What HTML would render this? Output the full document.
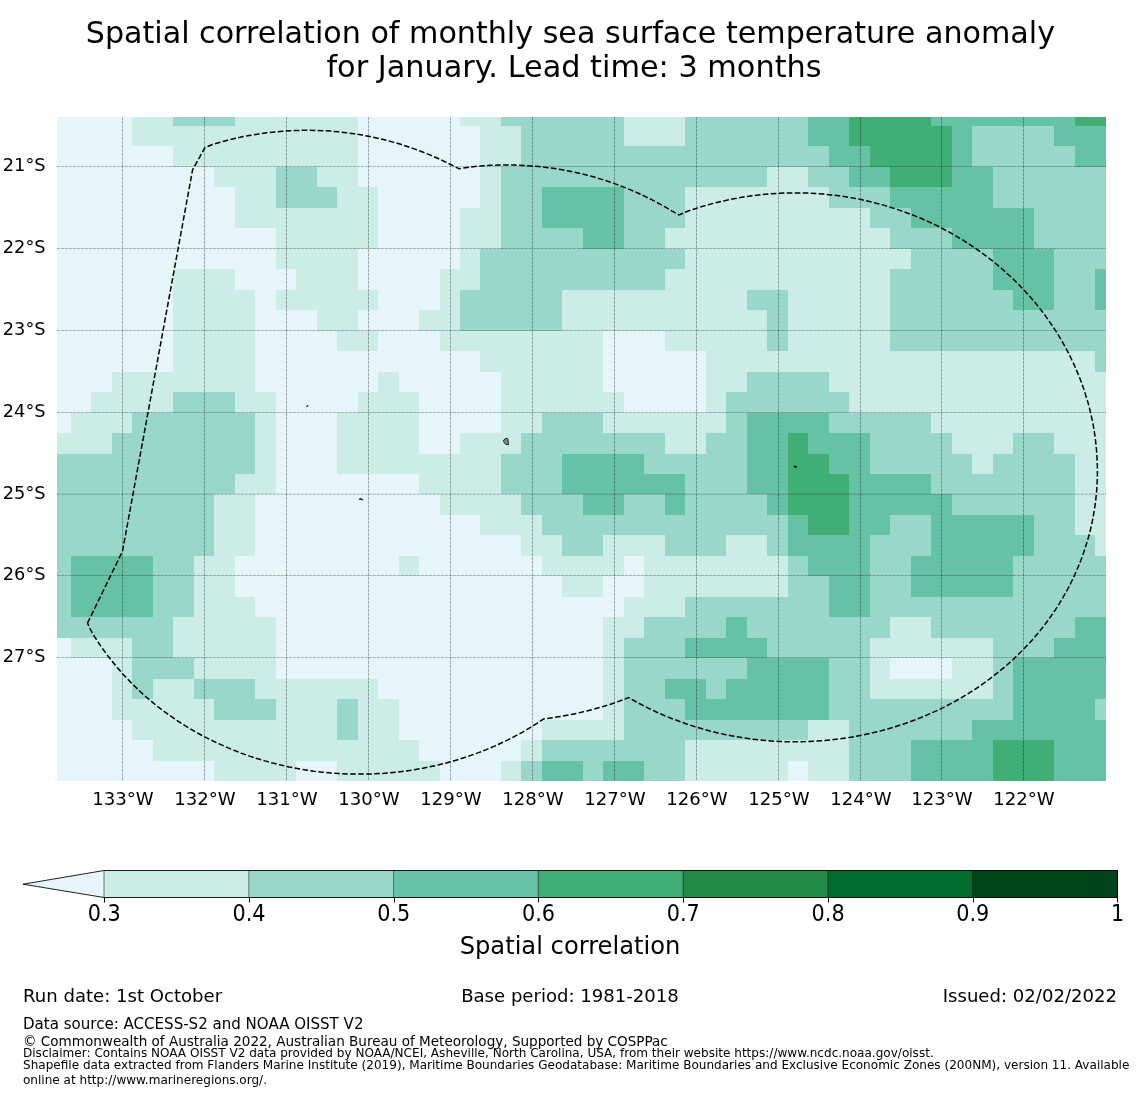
<!DOCTYPE html>
<html><head><meta charset="utf-8"><title>Spatial correlation of monthly sea surface temperature anomaly</title>
<style>html,body{margin:0;padding:0;background:#fff}svg{display:block}text{font-family:"DejaVu Sans","Liberation Sans",sans-serif;fill:#000}</style></head><body>
<svg width="1140" height="1095" viewBox="0 0 1140 1095">
<rect width="1140" height="1095" fill="#fff"/>
<g shape-rendering="crispEdges">
<rect x="57" y="117" width="1049" height="664" fill="#e5f5f9"/>
<rect x="132" y="117" width="41" height="9" fill="#ccece6"/>
<rect x="173" y="117" width="62" height="9" fill="#99d8c9"/>
<rect x="235" y="117" width="123" height="9" fill="#ccece6"/>
<rect x="460" y="117" width="41" height="9" fill="#ccece6"/>
<rect x="501" y="117" width="123" height="9" fill="#99d8c9"/>
<rect x="624" y="117" width="61" height="9" fill="#ccece6"/>
<rect x="685" y="117" width="123" height="9" fill="#99d8c9"/>
<rect x="808" y="117" width="41" height="9" fill="#66c2a4"/>
<rect x="849" y="117" width="82" height="9" fill="#41ae76"/>
<rect x="931" y="117" width="144" height="9" fill="#66c2a4"/>
<rect x="1075" y="117" width="31" height="9" fill="#41ae76"/>
<rect x="132" y="126" width="226" height="20" fill="#ccece6"/>
<rect x="480" y="126" width="41" height="20" fill="#ccece6"/>
<rect x="521" y="126" width="103" height="20" fill="#99d8c9"/>
<rect x="624" y="126" width="61" height="20" fill="#ccece6"/>
<rect x="685" y="126" width="123" height="20" fill="#99d8c9"/>
<rect x="808" y="126" width="41" height="20" fill="#66c2a4"/>
<rect x="849" y="126" width="103" height="20" fill="#41ae76"/>
<rect x="952" y="126" width="20" height="20" fill="#66c2a4"/>
<rect x="972" y="126" width="82" height="20" fill="#99d8c9"/>
<rect x="1054" y="126" width="52" height="20" fill="#66c2a4"/>
<rect x="173" y="146" width="185" height="21" fill="#ccece6"/>
<rect x="480" y="146" width="41" height="21" fill="#ccece6"/>
<rect x="521" y="146" width="308" height="21" fill="#99d8c9"/>
<rect x="829" y="146" width="41" height="21" fill="#66c2a4"/>
<rect x="870" y="146" width="82" height="21" fill="#41ae76"/>
<rect x="952" y="146" width="20" height="21" fill="#66c2a4"/>
<rect x="972" y="146" width="103" height="21" fill="#99d8c9"/>
<rect x="1075" y="146" width="31" height="21" fill="#66c2a4"/>
<rect x="214" y="167" width="62" height="20" fill="#ccece6"/>
<rect x="276" y="167" width="41" height="20" fill="#99d8c9"/>
<rect x="317" y="167" width="41" height="20" fill="#ccece6"/>
<rect x="480" y="167" width="21" height="20" fill="#ccece6"/>
<rect x="501" y="167" width="266" height="20" fill="#99d8c9"/>
<rect x="767" y="167" width="41" height="20" fill="#ccece6"/>
<rect x="808" y="167" width="41" height="20" fill="#99d8c9"/>
<rect x="849" y="167" width="41" height="20" fill="#66c2a4"/>
<rect x="890" y="167" width="62" height="20" fill="#41ae76"/>
<rect x="952" y="167" width="41" height="20" fill="#66c2a4"/>
<rect x="993" y="167" width="113" height="20" fill="#99d8c9"/>
<rect x="235" y="187" width="41" height="21" fill="#ccece6"/>
<rect x="276" y="187" width="61" height="21" fill="#99d8c9"/>
<rect x="337" y="187" width="41" height="21" fill="#ccece6"/>
<rect x="480" y="187" width="21" height="21" fill="#ccece6"/>
<rect x="501" y="187" width="41" height="21" fill="#99d8c9"/>
<rect x="542" y="187" width="82" height="21" fill="#66c2a4"/>
<rect x="624" y="187" width="61" height="21" fill="#99d8c9"/>
<rect x="685" y="187" width="144" height="21" fill="#ccece6"/>
<rect x="829" y="187" width="61" height="21" fill="#99d8c9"/>
<rect x="890" y="187" width="103" height="21" fill="#66c2a4"/>
<rect x="993" y="187" width="113" height="21" fill="#99d8c9"/>
<rect x="235" y="208" width="143" height="20" fill="#ccece6"/>
<rect x="460" y="208" width="41" height="20" fill="#ccece6"/>
<rect x="501" y="208" width="41" height="20" fill="#99d8c9"/>
<rect x="542" y="208" width="82" height="20" fill="#66c2a4"/>
<rect x="624" y="208" width="61" height="20" fill="#99d8c9"/>
<rect x="685" y="208" width="185" height="20" fill="#ccece6"/>
<rect x="870" y="208" width="41" height="20" fill="#99d8c9"/>
<rect x="911" y="208" width="123" height="20" fill="#66c2a4"/>
<rect x="1034" y="208" width="72" height="20" fill="#99d8c9"/>
<rect x="276" y="228" width="102" height="21" fill="#ccece6"/>
<rect x="460" y="228" width="41" height="21" fill="#ccece6"/>
<rect x="501" y="228" width="82" height="21" fill="#99d8c9"/>
<rect x="583" y="228" width="41" height="21" fill="#66c2a4"/>
<rect x="624" y="228" width="41" height="21" fill="#99d8c9"/>
<rect x="665" y="228" width="225" height="21" fill="#ccece6"/>
<rect x="890" y="228" width="62" height="21" fill="#99d8c9"/>
<rect x="952" y="228" width="82" height="21" fill="#66c2a4"/>
<rect x="1034" y="228" width="72" height="21" fill="#99d8c9"/>
<rect x="276" y="249" width="82" height="20" fill="#ccece6"/>
<rect x="460" y="249" width="20" height="20" fill="#ccece6"/>
<rect x="480" y="249" width="205" height="20" fill="#99d8c9"/>
<rect x="685" y="249" width="226" height="20" fill="#ccece6"/>
<rect x="911" y="249" width="82" height="20" fill="#99d8c9"/>
<rect x="993" y="249" width="61" height="20" fill="#66c2a4"/>
<rect x="1054" y="249" width="52" height="20" fill="#99d8c9"/>
<rect x="173" y="269" width="62" height="21" fill="#ccece6"/>
<rect x="296" y="269" width="62" height="21" fill="#ccece6"/>
<rect x="440" y="269" width="40" height="21" fill="#ccece6"/>
<rect x="480" y="269" width="185" height="21" fill="#99d8c9"/>
<rect x="665" y="269" width="225" height="21" fill="#ccece6"/>
<rect x="890" y="269" width="103" height="21" fill="#99d8c9"/>
<rect x="993" y="269" width="61" height="21" fill="#66c2a4"/>
<rect x="1054" y="269" width="41" height="21" fill="#99d8c9"/>
<rect x="1095" y="269" width="11" height="21" fill="#66c2a4"/>
<rect x="173" y="290" width="82" height="20" fill="#ccece6"/>
<rect x="276" y="290" width="102" height="20" fill="#ccece6"/>
<rect x="440" y="290" width="20" height="20" fill="#ccece6"/>
<rect x="460" y="290" width="102" height="20" fill="#99d8c9"/>
<rect x="562" y="290" width="185" height="20" fill="#ccece6"/>
<rect x="747" y="290" width="41" height="20" fill="#99d8c9"/>
<rect x="788" y="290" width="102" height="20" fill="#ccece6"/>
<rect x="890" y="290" width="123" height="20" fill="#99d8c9"/>
<rect x="1013" y="290" width="41" height="20" fill="#66c2a4"/>
<rect x="1054" y="290" width="41" height="20" fill="#99d8c9"/>
<rect x="1095" y="290" width="11" height="20" fill="#66c2a4"/>
<rect x="173" y="310" width="82" height="21" fill="#ccece6"/>
<rect x="317" y="310" width="41" height="21" fill="#ccece6"/>
<rect x="419" y="310" width="41" height="21" fill="#ccece6"/>
<rect x="460" y="310" width="102" height="21" fill="#99d8c9"/>
<rect x="562" y="310" width="205" height="21" fill="#ccece6"/>
<rect x="767" y="310" width="21" height="21" fill="#99d8c9"/>
<rect x="788" y="310" width="102" height="21" fill="#ccece6"/>
<rect x="890" y="310" width="216" height="21" fill="#99d8c9"/>
<rect x="173" y="331" width="82" height="20" fill="#ccece6"/>
<rect x="337" y="331" width="41" height="20" fill="#ccece6"/>
<rect x="440" y="331" width="163" height="20" fill="#ccece6"/>
<rect x="665" y="331" width="102" height="20" fill="#ccece6"/>
<rect x="767" y="331" width="21" height="20" fill="#99d8c9"/>
<rect x="788" y="331" width="102" height="20" fill="#ccece6"/>
<rect x="890" y="331" width="216" height="20" fill="#99d8c9"/>
<rect x="173" y="351" width="82" height="21" fill="#ccece6"/>
<rect x="480" y="351" width="123" height="21" fill="#ccece6"/>
<rect x="706" y="351" width="389" height="21" fill="#ccece6"/>
<rect x="1095" y="351" width="11" height="21" fill="#99d8c9"/>
<rect x="112" y="372" width="143" height="20" fill="#ccece6"/>
<rect x="378" y="372" width="21" height="20" fill="#ccece6"/>
<rect x="501" y="372" width="102" height="20" fill="#ccece6"/>
<rect x="706" y="372" width="41" height="20" fill="#ccece6"/>
<rect x="747" y="372" width="82" height="20" fill="#99d8c9"/>
<rect x="829" y="372" width="277" height="20" fill="#ccece6"/>
<rect x="91" y="392" width="82" height="21" fill="#ccece6"/>
<rect x="173" y="392" width="62" height="21" fill="#99d8c9"/>
<rect x="235" y="392" width="41" height="21" fill="#ccece6"/>
<rect x="358" y="392" width="61" height="21" fill="#ccece6"/>
<rect x="501" y="392" width="123" height="21" fill="#ccece6"/>
<rect x="706" y="392" width="20" height="21" fill="#ccece6"/>
<rect x="726" y="392" width="123" height="21" fill="#99d8c9"/>
<rect x="849" y="392" width="257" height="21" fill="#ccece6"/>
<rect x="71" y="413" width="61" height="20" fill="#ccece6"/>
<rect x="132" y="413" width="123" height="20" fill="#99d8c9"/>
<rect x="255" y="413" width="21" height="20" fill="#ccece6"/>
<rect x="337" y="413" width="82" height="20" fill="#ccece6"/>
<rect x="501" y="413" width="41" height="20" fill="#ccece6"/>
<rect x="542" y="413" width="61" height="20" fill="#99d8c9"/>
<rect x="603" y="413" width="123" height="20" fill="#ccece6"/>
<rect x="726" y="413" width="21" height="20" fill="#99d8c9"/>
<rect x="747" y="413" width="82" height="20" fill="#66c2a4"/>
<rect x="829" y="413" width="102" height="20" fill="#99d8c9"/>
<rect x="931" y="413" width="175" height="20" fill="#ccece6"/>
<rect x="57" y="433" width="55" height="21" fill="#ccece6"/>
<rect x="112" y="433" width="143" height="21" fill="#99d8c9"/>
<rect x="255" y="433" width="21" height="21" fill="#ccece6"/>
<rect x="337" y="433" width="82" height="21" fill="#ccece6"/>
<rect x="460" y="433" width="61" height="21" fill="#ccece6"/>
<rect x="521" y="433" width="144" height="21" fill="#99d8c9"/>
<rect x="665" y="433" width="41" height="21" fill="#ccece6"/>
<rect x="706" y="433" width="41" height="21" fill="#99d8c9"/>
<rect x="747" y="433" width="41" height="21" fill="#66c2a4"/>
<rect x="788" y="433" width="20" height="21" fill="#41ae76"/>
<rect x="808" y="433" width="62" height="21" fill="#66c2a4"/>
<rect x="870" y="433" width="82" height="21" fill="#99d8c9"/>
<rect x="952" y="433" width="61" height="21" fill="#ccece6"/>
<rect x="1013" y="433" width="41" height="21" fill="#99d8c9"/>
<rect x="1054" y="433" width="52" height="21" fill="#ccece6"/>
<rect x="57" y="454" width="198" height="20" fill="#99d8c9"/>
<rect x="255" y="454" width="21" height="20" fill="#ccece6"/>
<rect x="337" y="454" width="164" height="20" fill="#ccece6"/>
<rect x="501" y="454" width="61" height="20" fill="#99d8c9"/>
<rect x="562" y="454" width="82" height="20" fill="#66c2a4"/>
<rect x="644" y="454" width="103" height="20" fill="#99d8c9"/>
<rect x="747" y="454" width="41" height="20" fill="#66c2a4"/>
<rect x="788" y="454" width="41" height="20" fill="#41ae76"/>
<rect x="829" y="454" width="41" height="20" fill="#66c2a4"/>
<rect x="870" y="454" width="102" height="20" fill="#99d8c9"/>
<rect x="972" y="454" width="21" height="20" fill="#ccece6"/>
<rect x="993" y="454" width="82" height="20" fill="#99d8c9"/>
<rect x="1075" y="454" width="31" height="20" fill="#ccece6"/>
<rect x="57" y="474" width="178" height="20" fill="#99d8c9"/>
<rect x="235" y="474" width="41" height="20" fill="#ccece6"/>
<rect x="419" y="474" width="82" height="20" fill="#ccece6"/>
<rect x="501" y="474" width="61" height="20" fill="#99d8c9"/>
<rect x="562" y="474" width="123" height="20" fill="#66c2a4"/>
<rect x="685" y="474" width="62" height="20" fill="#99d8c9"/>
<rect x="747" y="474" width="41" height="20" fill="#66c2a4"/>
<rect x="788" y="474" width="61" height="20" fill="#41ae76"/>
<rect x="849" y="474" width="82" height="20" fill="#66c2a4"/>
<rect x="931" y="474" width="144" height="20" fill="#99d8c9"/>
<rect x="1075" y="474" width="31" height="20" fill="#ccece6"/>
<rect x="57" y="494" width="157" height="21" fill="#99d8c9"/>
<rect x="214" y="494" width="41" height="21" fill="#ccece6"/>
<rect x="440" y="494" width="81" height="21" fill="#ccece6"/>
<rect x="521" y="494" width="62" height="21" fill="#99d8c9"/>
<rect x="583" y="494" width="41" height="21" fill="#66c2a4"/>
<rect x="624" y="494" width="41" height="21" fill="#99d8c9"/>
<rect x="665" y="494" width="20" height="21" fill="#66c2a4"/>
<rect x="685" y="494" width="82" height="21" fill="#99d8c9"/>
<rect x="767" y="494" width="21" height="21" fill="#66c2a4"/>
<rect x="788" y="494" width="61" height="21" fill="#41ae76"/>
<rect x="849" y="494" width="103" height="21" fill="#66c2a4"/>
<rect x="952" y="494" width="123" height="21" fill="#99d8c9"/>
<rect x="1075" y="494" width="31" height="21" fill="#ccece6"/>
<rect x="57" y="515" width="157" height="20" fill="#99d8c9"/>
<rect x="214" y="515" width="41" height="20" fill="#ccece6"/>
<rect x="480" y="515" width="62" height="20" fill="#ccece6"/>
<rect x="542" y="515" width="246" height="20" fill="#99d8c9"/>
<rect x="788" y="515" width="20" height="20" fill="#66c2a4"/>
<rect x="808" y="515" width="41" height="20" fill="#41ae76"/>
<rect x="849" y="515" width="41" height="20" fill="#66c2a4"/>
<rect x="890" y="515" width="41" height="20" fill="#99d8c9"/>
<rect x="931" y="515" width="103" height="20" fill="#66c2a4"/>
<rect x="1034" y="515" width="41" height="20" fill="#99d8c9"/>
<rect x="1075" y="515" width="31" height="20" fill="#ccece6"/>
<rect x="57" y="535" width="157" height="21" fill="#99d8c9"/>
<rect x="214" y="535" width="41" height="21" fill="#ccece6"/>
<rect x="521" y="535" width="41" height="21" fill="#ccece6"/>
<rect x="562" y="535" width="41" height="21" fill="#99d8c9"/>
<rect x="603" y="535" width="62" height="21" fill="#ccece6"/>
<rect x="665" y="535" width="61" height="21" fill="#99d8c9"/>
<rect x="726" y="535" width="41" height="21" fill="#ccece6"/>
<rect x="767" y="535" width="21" height="21" fill="#99d8c9"/>
<rect x="788" y="535" width="82" height="21" fill="#66c2a4"/>
<rect x="870" y="535" width="61" height="21" fill="#99d8c9"/>
<rect x="931" y="535" width="103" height="21" fill="#66c2a4"/>
<rect x="1034" y="535" width="61" height="21" fill="#99d8c9"/>
<rect x="1095" y="535" width="11" height="21" fill="#ccece6"/>
<rect x="57" y="556" width="14" height="20" fill="#99d8c9"/>
<rect x="71" y="556" width="82" height="20" fill="#66c2a4"/>
<rect x="153" y="556" width="41" height="20" fill="#99d8c9"/>
<rect x="194" y="556" width="41" height="20" fill="#ccece6"/>
<rect x="399" y="556" width="20" height="20" fill="#ccece6"/>
<rect x="542" y="556" width="82" height="20" fill="#ccece6"/>
<rect x="644" y="556" width="144" height="20" fill="#ccece6"/>
<rect x="788" y="556" width="20" height="20" fill="#99d8c9"/>
<rect x="808" y="556" width="62" height="20" fill="#66c2a4"/>
<rect x="870" y="556" width="41" height="20" fill="#99d8c9"/>
<rect x="911" y="556" width="102" height="20" fill="#66c2a4"/>
<rect x="1013" y="556" width="93" height="20" fill="#99d8c9"/>
<rect x="57" y="576" width="14" height="21" fill="#99d8c9"/>
<rect x="71" y="576" width="82" height="21" fill="#66c2a4"/>
<rect x="153" y="576" width="41" height="21" fill="#99d8c9"/>
<rect x="194" y="576" width="41" height="21" fill="#ccece6"/>
<rect x="562" y="576" width="41" height="21" fill="#ccece6"/>
<rect x="644" y="576" width="144" height="21" fill="#ccece6"/>
<rect x="788" y="576" width="41" height="21" fill="#99d8c9"/>
<rect x="829" y="576" width="41" height="21" fill="#66c2a4"/>
<rect x="870" y="576" width="41" height="21" fill="#99d8c9"/>
<rect x="911" y="576" width="102" height="21" fill="#66c2a4"/>
<rect x="1013" y="576" width="93" height="21" fill="#99d8c9"/>
<rect x="57" y="597" width="14" height="20" fill="#99d8c9"/>
<rect x="71" y="597" width="82" height="20" fill="#66c2a4"/>
<rect x="153" y="597" width="41" height="20" fill="#99d8c9"/>
<rect x="194" y="597" width="61" height="20" fill="#ccece6"/>
<rect x="624" y="597" width="61" height="20" fill="#ccece6"/>
<rect x="685" y="597" width="144" height="20" fill="#99d8c9"/>
<rect x="829" y="597" width="41" height="20" fill="#66c2a4"/>
<rect x="870" y="597" width="236" height="20" fill="#99d8c9"/>
<rect x="57" y="617" width="116" height="21" fill="#99d8c9"/>
<rect x="173" y="617" width="103" height="21" fill="#ccece6"/>
<rect x="603" y="617" width="41" height="21" fill="#ccece6"/>
<rect x="644" y="617" width="82" height="21" fill="#99d8c9"/>
<rect x="726" y="617" width="21" height="21" fill="#66c2a4"/>
<rect x="747" y="617" width="143" height="21" fill="#99d8c9"/>
<rect x="890" y="617" width="41" height="21" fill="#ccece6"/>
<rect x="931" y="617" width="144" height="21" fill="#99d8c9"/>
<rect x="1075" y="617" width="31" height="21" fill="#66c2a4"/>
<rect x="71" y="638" width="61" height="20" fill="#ccece6"/>
<rect x="132" y="638" width="41" height="20" fill="#99d8c9"/>
<rect x="173" y="638" width="103" height="20" fill="#ccece6"/>
<rect x="603" y="638" width="21" height="20" fill="#ccece6"/>
<rect x="624" y="638" width="61" height="20" fill="#99d8c9"/>
<rect x="685" y="638" width="82" height="20" fill="#66c2a4"/>
<rect x="767" y="638" width="103" height="20" fill="#99d8c9"/>
<rect x="870" y="638" width="123" height="20" fill="#ccece6"/>
<rect x="993" y="638" width="61" height="20" fill="#99d8c9"/>
<rect x="1054" y="638" width="52" height="20" fill="#66c2a4"/>
<rect x="112" y="658" width="20" height="21" fill="#ccece6"/>
<rect x="132" y="658" width="62" height="21" fill="#99d8c9"/>
<rect x="194" y="658" width="82" height="21" fill="#ccece6"/>
<rect x="603" y="658" width="21" height="21" fill="#ccece6"/>
<rect x="624" y="658" width="123" height="21" fill="#99d8c9"/>
<rect x="747" y="658" width="82" height="21" fill="#66c2a4"/>
<rect x="829" y="658" width="41" height="21" fill="#99d8c9"/>
<rect x="870" y="658" width="20" height="21" fill="#ccece6"/>
<rect x="952" y="658" width="41" height="21" fill="#ccece6"/>
<rect x="993" y="658" width="20" height="21" fill="#99d8c9"/>
<rect x="1013" y="658" width="93" height="21" fill="#66c2a4"/>
<rect x="112" y="679" width="20" height="20" fill="#ccece6"/>
<rect x="132" y="679" width="21" height="20" fill="#99d8c9"/>
<rect x="153" y="679" width="41" height="20" fill="#ccece6"/>
<rect x="194" y="679" width="61" height="20" fill="#99d8c9"/>
<rect x="255" y="679" width="123" height="20" fill="#ccece6"/>
<rect x="603" y="679" width="21" height="20" fill="#ccece6"/>
<rect x="624" y="679" width="41" height="20" fill="#99d8c9"/>
<rect x="665" y="679" width="41" height="20" fill="#66c2a4"/>
<rect x="706" y="679" width="20" height="20" fill="#99d8c9"/>
<rect x="726" y="679" width="103" height="20" fill="#66c2a4"/>
<rect x="829" y="679" width="41" height="20" fill="#99d8c9"/>
<rect x="870" y="679" width="123" height="20" fill="#ccece6"/>
<rect x="993" y="679" width="20" height="20" fill="#99d8c9"/>
<rect x="1013" y="679" width="93" height="20" fill="#66c2a4"/>
<rect x="112" y="699" width="102" height="21" fill="#ccece6"/>
<rect x="214" y="699" width="62" height="21" fill="#99d8c9"/>
<rect x="276" y="699" width="61" height="21" fill="#ccece6"/>
<rect x="337" y="699" width="21" height="21" fill="#99d8c9"/>
<rect x="358" y="699" width="41" height="21" fill="#ccece6"/>
<rect x="603" y="699" width="21" height="21" fill="#ccece6"/>
<rect x="624" y="699" width="61" height="21" fill="#99d8c9"/>
<rect x="685" y="699" width="144" height="21" fill="#66c2a4"/>
<rect x="829" y="699" width="184" height="21" fill="#99d8c9"/>
<rect x="1013" y="699" width="82" height="21" fill="#66c2a4"/>
<rect x="1095" y="699" width="11" height="21" fill="#99d8c9"/>
<rect x="132" y="720" width="205" height="20" fill="#ccece6"/>
<rect x="337" y="720" width="21" height="20" fill="#99d8c9"/>
<rect x="358" y="720" width="41" height="20" fill="#ccece6"/>
<rect x="542" y="720" width="82" height="20" fill="#ccece6"/>
<rect x="624" y="720" width="184" height="20" fill="#99d8c9"/>
<rect x="808" y="720" width="41" height="20" fill="#ccece6"/>
<rect x="849" y="720" width="123" height="20" fill="#99d8c9"/>
<rect x="972" y="720" width="134" height="20" fill="#66c2a4"/>
<rect x="153" y="740" width="266" height="21" fill="#ccece6"/>
<rect x="521" y="740" width="21" height="21" fill="#ccece6"/>
<rect x="542" y="740" width="143" height="21" fill="#99d8c9"/>
<rect x="685" y="740" width="164" height="21" fill="#ccece6"/>
<rect x="849" y="740" width="62" height="21" fill="#99d8c9"/>
<rect x="911" y="740" width="82" height="21" fill="#66c2a4"/>
<rect x="993" y="740" width="61" height="21" fill="#41ae76"/>
<rect x="1054" y="740" width="52" height="21" fill="#66c2a4"/>
<rect x="214" y="761" width="82" height="20" fill="#ccece6"/>
<rect x="337" y="761" width="103" height="20" fill="#ccece6"/>
<rect x="501" y="761" width="20" height="20" fill="#ccece6"/>
<rect x="521" y="761" width="21" height="20" fill="#99d8c9"/>
<rect x="542" y="761" width="41" height="20" fill="#66c2a4"/>
<rect x="583" y="761" width="20" height="20" fill="#99d8c9"/>
<rect x="603" y="761" width="41" height="20" fill="#66c2a4"/>
<rect x="644" y="761" width="41" height="20" fill="#99d8c9"/>
<rect x="685" y="761" width="103" height="20" fill="#ccece6"/>
<rect x="808" y="761" width="41" height="20" fill="#ccece6"/>
<rect x="849" y="761" width="62" height="20" fill="#99d8c9"/>
<rect x="911" y="761" width="82" height="20" fill="#66c2a4"/>
<rect x="993" y="761" width="61" height="20" fill="#41ae76"/>
<rect x="1054" y="761" width="52" height="20" fill="#66c2a4"/>
</g>
<path d="M122.5 117V781M204.5 117V781M286.5 117V781M368.5 117V781M450.5 117V781M532.5 117V781M614.5 117V781M696.5 117V781M778.5 117V781M860.5 117V781M941.5 117V781M1023.5 117V781M57 166.5H1106M57 248.5H1106M57 330.5H1106M57 412.5H1106M57 494.2H1106M57 575.5H1106M57 657.5H1106" stroke="#000" stroke-opacity="0.1" stroke-width="1" fill="none"/>
<path d="M122.5 117V781M204.5 117V781M286.5 117V781M368.5 117V781M450.5 117V781M532.5 117V781M614.5 117V781M696.5 117V781M778.5 117V781M860.5 117V781M941.5 117V781M1023.5 117V781" stroke="#000" stroke-opacity="0.24" stroke-width="1" stroke-dasharray="2.8 1.2" fill="none"/>
<path d="M57 166.5H1106M57 248.5H1106M57 330.5H1106M57 412.5H1106M57 494.2H1106M57 575.5H1106M57 657.5H1106" stroke="#000" stroke-opacity="0.19" stroke-width="1" stroke-dasharray="2.8 1.2" fill="none"/>
<path d="M87.5 623.1 L122.5 551.2 L192.6 169.7 L205.1 147.4 L212.5 144.5 L220.1 142.3 L227.7 140.2 L235.5 138.3 L243.2 136.6 L251.1 135.2 L258.9 133.9 L266.8 132.8 L274.7 131.9 L282.7 131.2 L290.6 130.7 L298.6 130.4 L306.6 130.3 L314.5 130.4 L322.5 130.7 L330.5 131.1 L338.4 131.8 L346.3 132.7 L354.2 133.8 L362.1 135.1 L369.9 136.5 L377.7 138.2 L385.4 140.1 L393.1 142.1 L400.7 144.3 L408.2 146.8 L415.7 149.4 L423.1 152.2 L430.4 155.1 L437.7 158.3 L444.8 161.6 L451.9 165.2 L459.0 168.7 L467.0 167.4 L474.9 166.5 L482.9 165.8 L490.8 165.3 L498.8 165.0 L506.8 165.0 L514.7 165.1 L522.7 165.4 L530.7 165.9 L538.6 166.5 L546.5 167.4 L554.4 168.5 L562.3 169.8 L570.1 171.3 L577.9 172.9 L585.6 174.8 L593.3 176.8 L600.9 179.1 L608.4 181.5 L615.9 184.1 L623.3 186.9 L630.6 189.9 L637.9 193.0 L645.0 196.4 L652.1 199.9 L659.0 203.6 L665.9 207.4 L672.6 211.4 L679.1 215.0 L686.3 211.7 L693.6 209.2 L700.9 206.9 L708.4 204.7 L715.8 202.7 L723.4 200.9 L730.9 199.3 L738.6 197.8 L746.2 196.6 L753.9 195.5 L761.6 194.6 L769.3 193.9 L777.1 193.4 L784.9 193.0 L792.6 192.9 L800.4 192.9 L808.2 193.1 L815.9 193.5 L823.7 194.1 L831.4 194.9 L839.1 195.8 L846.8 197.0 L854.4 198.3 L862.0 199.8 L869.6 201.5 L877.1 203.4 L884.5 205.4 L891.9 207.7 L899.3 210.1 L906.5 212.7 L913.7 215.4 L920.9 218.3 L927.9 221.4 L934.9 224.7 L941.7 228.1 L948.5 231.7 L955.2 235.5 L961.7 239.4 L968.2 243.4 L974.5 247.7 L980.7 252.0 L986.8 256.5 L992.8 261.2 L998.7 266.0 L1004.4 271.0 L1009.9 276.0 L1015.4 281.2 L1020.7 286.6 L1025.8 292.0 L1030.8 297.6 L1035.6 303.3 L1040.3 309.1 L1044.8 315.0 L1049.1 321.1 L1053.3 327.2 L1057.3 333.4 L1061.1 339.7 L1064.8 346.2 L1068.3 352.7 L1071.5 359.2 L1074.6 365.9 L1077.5 372.6 L1080.3 379.4 L1082.8 386.2 L1085.1 393.2 L1087.3 400.1 L1089.2 407.1 L1090.9 414.2 L1092.5 421.3 L1093.8 428.4 L1094.9 435.6 L1095.8 442.8 L1096.5 450.0 L1097.0 457.2 L1097.3 464.4 L1097.4 471.7 L1097.3 478.9 L1097.0 486.1 L1096.4 493.3 L1095.7 500.5 L1094.7 507.7 L1093.5 514.9 L1092.2 522.0 L1090.6 529.1 L1088.8 536.1 L1086.7 543.1 L1084.5 550.1 L1082.1 557.0 L1079.5 563.8 L1076.6 570.6 L1073.6 577.3 L1070.4 583.9 L1067.0 590.5 L1063.3 596.9 L1059.5 603.3 L1055.5 609.6 L1051.3 615.7 L1046.9 621.8 L1042.4 627.8 L1037.6 633.7 L1032.7 639.4 L1027.6 645.0 L1022.3 650.5 L1016.9 655.9 L1011.3 661.1 L1005.5 666.3 L999.6 671.2 L993.5 676.0 L987.3 680.7 L981.0 685.2 L974.5 689.6 L967.8 693.8 L961.1 697.9 L954.2 701.8 L947.2 705.5 L940.1 709.1 L932.9 712.4 L925.6 715.6 L918.1 718.7 L910.6 721.5 L903.0 724.2 L895.3 726.7 L887.6 729.0 L879.7 731.1 L871.8 733.1 L863.9 734.8 L855.9 736.4 L847.8 737.7 L839.7 738.9 L831.6 739.8 L823.5 740.6 L815.3 741.2 L807.1 741.6 L798.9 741.8 L790.7 741.8 L782.5 741.6 L774.3 741.2 L766.2 740.6 L758.0 739.8 L749.9 738.8 L741.8 737.6 L733.8 736.2 L725.8 734.7 L717.8 732.9 L709.9 731.0 L702.1 728.8 L694.3 726.5 L686.7 724.0 L679.1 721.3 L671.6 718.5 L664.1 715.4 L656.8 712.2 L649.6 708.8 L642.5 705.2 L635.5 701.5 L628.7 697.5 L619.7 701.0 L610.5 704.2 L601.2 707.1 L591.8 709.7 L582.3 712.1 L572.7 714.2 L563.1 716.0 L553.4 717.6 L543.6 718.9 L537.0 723.4 L530.1 727.7 L523.1 731.8 L516.0 735.7 L508.8 739.4 L501.4 743.0 L493.9 746.4 L486.4 749.6 L478.7 752.6 L470.9 755.4 L463.1 758.0 L455.1 760.5 L447.1 762.7 L439.0 764.8 L430.9 766.6 L422.7 768.3 L414.4 769.7 L406.1 771.0 L397.8 772.0 L389.4 772.8 L381.0 773.5 L372.6 773.9 L364.2 774.1 L355.8 774.1 L347.4 774.0 L338.9 773.6 L330.5 773.0 L322.2 772.2 L313.8 771.2 L305.5 769.9 L297.3 768.5 L289.0 766.9 L280.9 765.1 L272.8 763.1 L264.8 760.9 L256.8 758.5 L248.9 755.9 L241.1 753.1 L233.5 750.1 L225.9 746.9 L218.4 743.6 L211.0 740.1 L203.7 736.4 L196.6 732.5 L189.6 728.4 L182.7 724.2 L176.0 719.8 L169.4 715.2 L162.9 710.5 L156.6 705.7 L150.5 700.6 L144.5 695.5 L138.7 690.1 L133.1 684.7 L127.6 679.1 L122.3 673.4 L117.2 667.5 L112.3 661.6 L107.6 655.5 L103.0 649.3 L98.7 643.0 L94.5 636.6 L90.6 630.0 L87.5 623.1Z" fill="none" stroke="#000" stroke-width="1.5" stroke-dasharray="5.6 2.4"/>
<path d="M503.4 441 L504.8 438.9 L507.4 438.3 L507.9 438.9 L508.5 444.6 L505.6 444.3 L504.3 442.5 Z" fill="#8a8a8a" stroke="#000" stroke-width="0.8" stroke-linejoin="round"/>
<path d="M306.2 406.5 L307.9 406.5 L307.9 404.9 Z" fill="#000" stroke="#000" stroke-width="0.4"/>
<path d="M358.9 499.3 L360.4 498.2 L363 499.5 L362.8 500.1 L360.6 499.5 Z" fill="#000" stroke="#000" stroke-width="0.5"/>
<path d="M793.9 466 L796.9 466.2 L796.6 467.4 L795.2 467.5 L794 466.9 Z" fill="#000" stroke="#000" stroke-width="0.4"/>
<g font-size="18.1px">
<text x="123.0" y="804.8" text-anchor="middle">133°W</text>
<text x="205.0" y="804.8" text-anchor="middle">132°W</text>
<text x="287.0" y="804.8" text-anchor="middle">131°W</text>
<text x="369.0" y="804.8" text-anchor="middle">130°W</text>
<text x="451.0" y="804.8" text-anchor="middle">129°W</text>
<text x="533.0" y="804.8" text-anchor="middle">128°W</text>
<text x="615.0" y="804.8" text-anchor="middle">127°W</text>
<text x="697.0" y="804.8" text-anchor="middle">126°W</text>
<text x="779.0" y="804.8" text-anchor="middle">125°W</text>
<text x="861.0" y="804.8" text-anchor="middle">124°W</text>
<text x="942.0" y="804.8" text-anchor="middle">123°W</text>
<text x="1024.0" y="804.8" text-anchor="middle">122°W</text>
</g><g font-size="17.8px">
<text x="45.6" y="170.9" text-anchor="end">21°S</text>
<text x="45.6" y="252.9" text-anchor="end">22°S</text>
<text x="45.6" y="334.9" text-anchor="end">23°S</text>
<text x="45.6" y="416.9" text-anchor="end">24°S</text>
<text x="45.6" y="498.6" text-anchor="end">25°S</text>
<text x="45.6" y="579.9" text-anchor="end">26°S</text>
<text x="45.6" y="661.9" text-anchor="end">27°S</text>
</g>
<g text-anchor="middle"><text x="570.4" y="43.3" font-size="30.15px">Spatial correlation of monthly sea surface temperature anomaly</text><text x="574" y="77.2" font-size="30.32px">for January. Lead time: 3 months</text></g>
<g shape-rendering="crispEdges">
<rect x="104" y="870" width="145" height="28" fill="#ccece6"/>
<rect x="249" y="870" width="145" height="28" fill="#99d8c9"/>
<rect x="394" y="870" width="144" height="28" fill="#66c2a4"/>
<rect x="538" y="870" width="145" height="28" fill="#41ae76"/>
<rect x="683" y="870" width="145" height="28" fill="#238b45"/>
<rect x="828" y="870" width="145" height="28" fill="#006d2c"/>
<rect x="973" y="870" width="145" height="28" fill="#00441b"/>
</g>
<path d="M104 870.5 L23 884.2 L104 897.5 Z" fill="#e5f5f9" stroke="none"/>
<g stroke="#000" stroke-opacity="0.5" stroke-width="1">
<line x1="104.0" y1="871" x2="104.0" y2="897"/>
<line x1="248.8" y1="871" x2="248.8" y2="897"/>
<line x1="393.5" y1="871" x2="393.5" y2="897"/>
<line x1="538.3" y1="871" x2="538.3" y2="897"/>
<line x1="683.1" y1="871" x2="683.1" y2="897"/>
<line x1="827.9" y1="871" x2="827.9" y2="897"/>
<line x1="972.6" y1="871" x2="972.6" y2="897"/>
</g>
<path d="M104 870.5 L23 884.2 L104 897.5 L1117.5 897.5 L1117.5 870.5 Z" fill="none" stroke="#000" stroke-opacity="0.88" stroke-width="1" stroke-linejoin="miter"/>
<g stroke="#000" stroke-width="1">
<line x1="104.5" y1="898" x2="104.5" y2="902.5"/>
<line x1="249.5" y1="898" x2="249.5" y2="902.5"/>
<line x1="394.5" y1="898" x2="394.5" y2="902.5"/>
<line x1="538.5" y1="898" x2="538.5" y2="902.5"/>
<line x1="683.5" y1="898" x2="683.5" y2="902.5"/>
<line x1="828.5" y1="898" x2="828.5" y2="902.5"/>
<line x1="973.5" y1="898" x2="973.5" y2="902.5"/>
<line x1="1117.5" y1="898" x2="1117.5" y2="902.5"/>
</g>
<g font-size="20.8px" text-anchor="middle">
<text transform="translate(104.2 920.7) scale(1 1.08)">0.3</text>
<text transform="translate(249.0 920.7) scale(1 1.08)">0.4</text>
<text transform="translate(393.7 920.7) scale(1 1.08)">0.5</text>
<text transform="translate(538.5 920.7) scale(1 1.08)">0.6</text>
<text transform="translate(683.3 920.7) scale(1 1.08)">0.7</text>
<text transform="translate(828.1 920.7) scale(1 1.08)">0.8</text>
<text transform="translate(972.8 920.7) scale(1 1.08)">0.9</text>
<text transform="translate(1117.6 920.7) scale(1 1.08)">1</text>
</g>
<text x="570" y="954.2" font-size="24.2px" text-anchor="middle">Spatial correlation</text>
<g font-size="18.08px"><text x="23" y="1001.7">Run date: 1st October</text><text x="570" y="1001.7" text-anchor="middle">Base period: 1981-2018</text><text x="1117" y="1001.7" text-anchor="end">Issued: 02/02/2022</text></g>
<text x="23" y="1028.8" font-size="15.05px">Data source: ACCESS-S2 and NOAA OISST V2</text>
<text x="23" y="1045.9" font-size="13.55px">© Commonwealth of Australia 2022, Australian Bureau of Meteorology, Supported by COSPPac</text>
<g font-size="12.06px"><text x="23" y="1057">Disclaimer: Contains NOAA OISST V2 data provided by NOAA/NCEI, Asheville, North Carolina, USA, from their website https://www.ncdc.noaa.gov/oisst.</text>
<text x="23" y="1069.4">Shapefile data extracted from Flanders Marine Institute (2019), Maritime Boundaries Geodatabase: Maritime Boundaries and Exclusive Economic Zones (200NM), version 11. Available</text>
<text x="23" y="1084">online at http://www.marineregions.org/.</text></g>
</svg></body></html>
